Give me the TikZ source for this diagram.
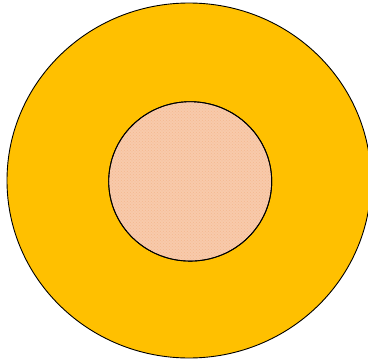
\documentclass[tikz,border=0pt]{standalone}
\usetikzlibrary{patterns}
\definecolor{outerfill}{HTML}{FFC000}
\definecolor{innerfill}{HTML}{F8CAAB}
\definecolor{innerdot}{HTML}{F4B890}
\begin{document}
\begin{tikzpicture}[x=1pt,y=-1pt,
  ring/.style={draw=black,line width=0.9pt},
  dotfill/.style={pattern=crosshatch dots,pattern color=innerdot}]
\useasboundingbox (0,0) rectangle (368,362);
\clip (0,0) rectangle (368,362);
\filldraw[ring,fill=outerfill] (189,180.5) ellipse [x radius=182,y radius=177.5];
\filldraw[ring,fill=innerfill] (190.2,181.4) ellipse [x radius=81.5,y radius=79.7];
\fill[dotfill] (190.2,181.4) ellipse [x radius=81,y radius=79.2];
\draw[ring] (190.2,181.4) ellipse [x radius=81.5,y radius=79.7];
\end{tikzpicture}
\end{document}
